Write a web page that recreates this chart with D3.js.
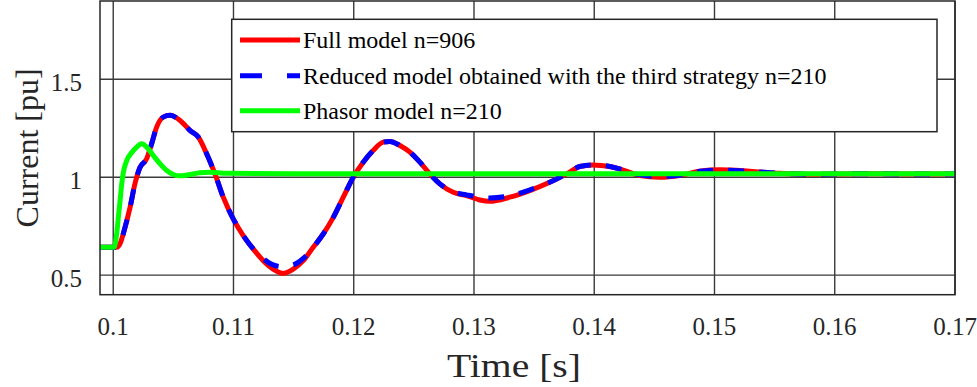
<!DOCTYPE html>
<html><head><meta charset="utf-8">
<script src="https://cdn.jsdelivr.net/npm/d3@7"></script>
<style>body{margin:0;background:#fff}svg{display:block}</style>
</head><body>
<svg id="c" width="977" height="387"></svg>
<script>
const xTicks = [0.1, 0.11, 0.12, 0.13, 0.14, 0.15, 0.16, 0.17];
const xTickLabels = ["0.1","0.11","0.12","0.13","0.14","0.15","0.16","0.17"];
const yTicks = [0.5, 1, 1.5];
const yTickLabels = ["0.5","1","1.5"];
const seriesNames = ["Full model n=906","Reduced model obtained with the third strategy n=210","Phasor model n=210"];

const fullT = [0.0989,0.1003,0.10057,0.10098,0.1014,0.10181,0.10223,0.10278,0.1032,0.10361,0.10416,0.10472,0.10556,0.10638,0.10707,0.10777,0.10846,0.10915,0.10998,0.11081,0.11164,0.11247,0.1133,0.11409,0.11497,0.1158,0.11663,0.11746,0.1183,0.11913,0.11996,0.12079,0.12162,0.12245,0.12301,0.12384,0.12467,0.1255,0.12633,0.12716,0.12827,0.12938,0.13048,0.13131,0.13297,0.13464,0.1363,0.13796,0.13879,0.1399,0.14128,0.14211,0.14378,0.14544,0.1471,0.14876,0.15043,0.15292,0.15541,0.158,0.162,0.166,0.17];
const fullV = [0.642,0.642,0.661,0.744,0.846,0.968,1.051,1.094,1.172,1.256,1.307,1.316,1.29,1.239,1.205,1.12,1.017,0.898,0.787,0.702,0.634,0.574,0.531,0.509,0.531,0.574,0.642,0.71,0.795,0.898,1.0,1.077,1.137,1.179,1.183,1.162,1.128,1.077,1.017,0.966,0.923,0.906,0.884,0.877,0.898,0.932,0.974,1.026,1.055,1.063,1.055,1.043,1.009,1.0,1.009,1.031,1.038,1.031,1.02,1.015,1.018,1.017,1.017];

const reducedV = [0.642,0.642,0.661,0.744,0.846,0.968,1.051,1.094,1.172,1.256,1.307,1.316,1.29,1.239,1.205,1.12,1.017,0.898,0.787,0.702,0.634,0.585,0.552,0.543,0.552,0.585,0.642,0.71,0.795,0.898,1.0,1.077,1.137,1.179,1.183,1.162,1.128,1.077,1.017,0.966,0.925,0.91,0.898,0.894,0.905,0.935,0.974,1.026,1.055,1.063,1.055,1.043,1.012,1.004,1.01,1.03,1.036,1.03,1.02,1.015,1.018,1.017,1.017];

const phasorT = [0.0989,0.1,0.10011,0.10029,0.10044,0.10057,0.10071,0.10084,0.10112,0.10154,0.10195,0.10237,0.10278,0.10333,0.10389,0.10445,0.10499,0.10555,0.10638,0.10721,0.10804,0.10943,0.115,0.17];
const phasorV = [0.642,0.642,0.646,0.712,0.804,0.881,0.968,1.024,1.085,1.126,1.154,1.171,1.154,1.111,1.069,1.034,1.014,1.007,1.014,1.023,1.026,1.02,1.018,1.018];

const svg = d3.select("#c");
const L = 100, R = 955, T = 1, B = 294.7;
const x = d3.scaleLinear().domain([0.0989, 0.17]).range([L, R]);
const y = d3.scaleLinear().domain([0.4, 1.9]).range([B, T]);
const font = "'Liberation Serif', 'Times New Roman', serif";
const gridCol = "#3a3a3a";

// grid
const g = svg.append("g");
g.selectAll(".gx").data(xTicks).join("line")
  .attr("x1", d => x(d)).attr("x2", d => x(d)).attr("y1", T).attr("y2", B)
  .attr("stroke", gridCol).attr("stroke-width", 1.4);
g.selectAll(".gy").data(yTicks).join("line")
  .attr("y1", d => y(d)).attr("y2", d => y(d)).attr("x1", L).attr("x2", R)
  .attr("stroke", gridCol).attr("stroke-width", 1.4);

// tick labels
svg.selectAll(".xl").data(xTicks).join("text")
  .attr("x", d => x(d)).attr("y", 335).attr("text-anchor", "middle")
  .attr("font-family", font).attr("font-size", 25).attr("fill", "#262626")
  .text((d, i) => xTickLabels[i]);
svg.selectAll(".yl").data(yTicks).join("text")
  .attr("x", 82).attr("y", d => y(d) + 12).attr("text-anchor", "end")
  .attr("font-family", font).attr("font-size", 25).attr("fill", "#262626")
  .text((d, i) => yTickLabels[i]);

// axis titles
svg.append("text").attr("x", 514).attr("y", 377).attr("text-anchor", "middle")
  .attr("font-family", font).attr("font-size", 34).attr("fill", "#262626")
  .attr("textLength", 134).attr("lengthAdjust", "spacingAndGlyphs").text("Time [s]");
svg.append("text").attr("transform", `translate(38,${(T + B) / 2}) rotate(-90)`).attr("text-anchor", "middle")
  .attr("font-family", font).attr("font-size", 32).attr("fill", "#262626").text("Current [pu]");

// lines
svg.append("clipPath").attr("id", "pc").append("rect")
  .attr("x", L).attr("y", T).attr("width", R - L).attr("height", B - T);
const line = d3.line().x(d => x(d[0])).y(d => y(d[1])).curve(d3.curveMonotoneX);
const plot = svg.append("g").attr("clip-path", "url(#pc)");
plot.append("path").datum(fullT.map((t, i) => [t, fullV[i]])).attr("d", line)
  .attr("fill", "none").attr("stroke", "#ff0000").attr("stroke-width", 5);
plot.append("path").datum(fullT.map((t, i) => [t, reducedV[i]])).attr("d", line)
  .attr("fill", "none").attr("stroke", "#0000ff").attr("stroke-width", 5).attr("stroke-dasharray", "16,15");
plot.append("path").datum(phasorT.map((t, i) => [t, phasorV[i]])).attr("d", line)
  .attr("fill", "none").attr("stroke", "#00ff00").attr("stroke-width", 5);

// axes box
svg.append("rect").attr("x", L).attr("y", T).attr("width", R - L).attr("height", B - T)
  .attr("fill", "none").attr("stroke", "#262626").attr("stroke-width", 1.5);

// legend
const lg = svg.append("g");
lg.append("rect").attr("x", 231.7).attr("y", 19.3).attr("width", 937 - 231.7).attr("height", 131.7 - 19.3)
  .attr("fill", "#fff").attr("stroke", "#262626").attr("stroke-width", 1.5);
const colors = ["#ff0000", "#0000ff", "#00ff00"];
const dashes = [null, "22,25", null];
const ly = [40, 75.7, 110.7];
seriesNames.forEach((n, i) => {
  lg.append("line").attr("x1", 240).attr("x2", 300).attr("y1", ly[i]).attr("y2", ly[i])
    .attr("stroke", colors[i]).attr("stroke-width", 5).attr("stroke-dasharray", dashes[i]);
  lg.append("text").attr("x", 303).attr("y", ly[i] + 8).attr("font-family", font)
    .attr("font-size", 24).attr("fill", "#000").text(n);
});
</script>
</body></html>
